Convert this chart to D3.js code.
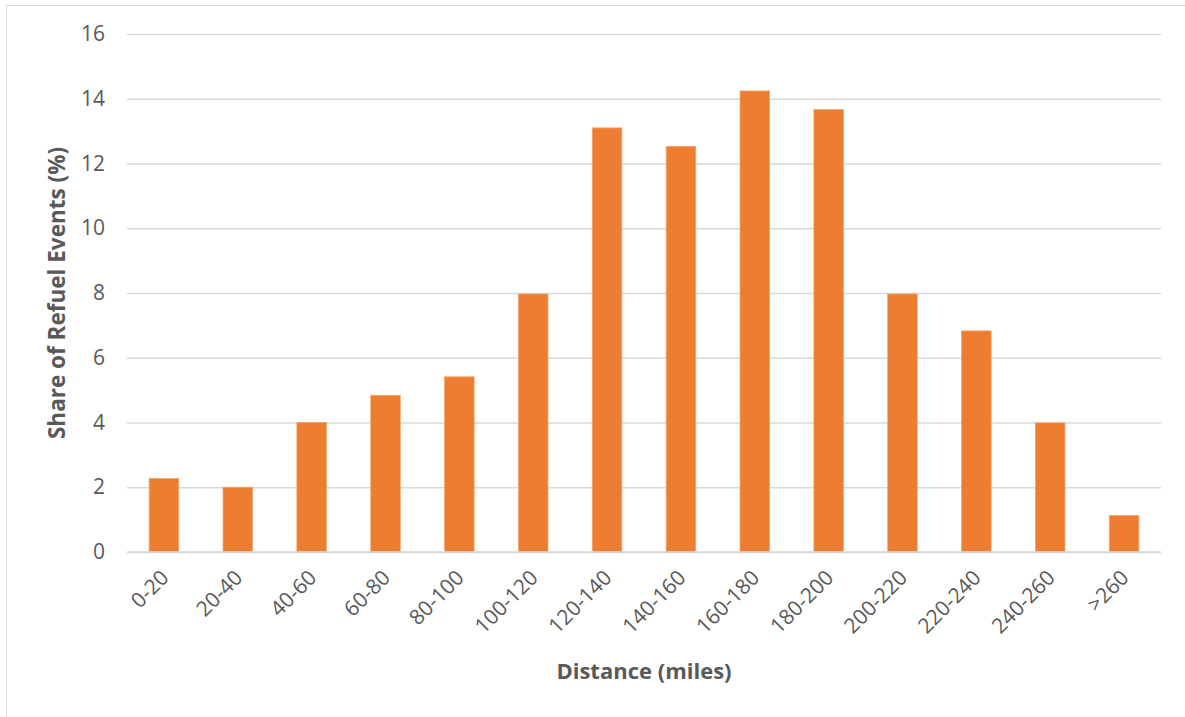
<!DOCTYPE html>
<html><head><meta charset="utf-8">
<script src="https://cdn.jsdelivr.net/npm/d3@7"></script>
<style>
html,body{margin:0;padding:0;background:#fff;}
svg{display:block;}
</style></head>
<body>
<svg id="chart" width="1185" height="717"></svg>
<script>
const categories = ["0-20","20-40","40-60","60-80","80-100","100-120","120-140","140-160","160-180","180-200","200-220","220-240","240-260",">260"];
const shares = [2.27, 2.0, 4.0, 4.84, 5.41, 7.97, 13.1, 12.53, 14.24, 13.67, 7.97, 6.83, 3.99, 1.13];
const yTicks = [0, 2, 4, 6, 8, 10, 12, 14, 16];
const xTitle = "Distance (miles)";
const yTitle = "Share of Refuel Events (%)";

(function () {
const svg = d3.select("#chart");
const font = "'Open Sans', 'Noto Sans', sans-serif";

// outer border
svg.append("rect").attr("x", 6.5).attr("y", 5.5).attr("width", 1190).attr("height", 730)
  .attr("fill", "none").attr("stroke", "#d9d9d9").attr("stroke-width", 1);

const pLeft = 127, pRight = 1161, pTop = 34, pBottom = 552;
const x = d3.scaleBand().domain(categories).range([pLeft, pRight]).paddingInner(0.6).paddingOuter(0.3);
const y = d3.scaleLinear().domain([0, 16]).range([pBottom, pTop]);

// gridlines
const yAxis = d3.axisLeft(y).tickValues(yTicks).tickSize(-(pRight - pLeft)).tickPadding(22).tickFormat(d3.format("d"));
const gy = svg.append("g").attr("transform", `translate(${pLeft},0)`).call(yAxis);
gy.select(".domain").remove();
gy.selectAll(".tick line").attr("stroke", "#d9d9d9").attr("stroke-width", 1.3);
gy.selectAll(".tick text").attr("fill", "#595959").style("font-family", font).style("font-size", "21px");

// bars
svg.append("g").selectAll("rect").data(shares).join("rect")
  .attr("x", (d, i) => x(categories[i]))
  .attr("y", d => y(d))
  .attr("width", x.bandwidth())
  .attr("height", d => y(0) - y(d))
  .attr("fill", "#ED7D31")
  .attr("stroke", "#F4A46A").attr("stroke-width", 0.8);

// x axis
const xAxis = d3.axisBottom(x).tickSize(0).tickPadding(0);
const gx = svg.append("g").attr("transform", `translate(0,${pBottom})`).call(xAxis);
gx.select(".domain").attr("stroke", "#d9d9d9").attr("stroke-width", 1.3).attr("d", `M${pLeft},0H${pRight}`);
gx.selectAll(".tick text")
  .attr("fill", "#595959").style("font-family", font).style("font-size", "21px")
  .attr("text-anchor", "end")
  .attr("dy", null).attr("y", 0)
  .attr("transform", "translate(6,27) rotate(-45)");

// axis titles
svg.append("text").attr("x", (pLeft + pRight) / 2).attr("y", 679)
  .attr("text-anchor", "middle").attr("fill", "#595959")
  .style("font-family", font).style("font-size", "22px").style("font-weight", "bold")
  .text(xTitle);
svg.append("text").attr("transform", `translate(65,${(pTop + pBottom) / 2}) rotate(-90)`)
  .attr("text-anchor", "middle").attr("fill", "#595959")
  .style("font-family", font).style("font-size", "22.5px").style("font-weight", "bold")
  .text(yTitle);
})();
</script>
</body></html>
